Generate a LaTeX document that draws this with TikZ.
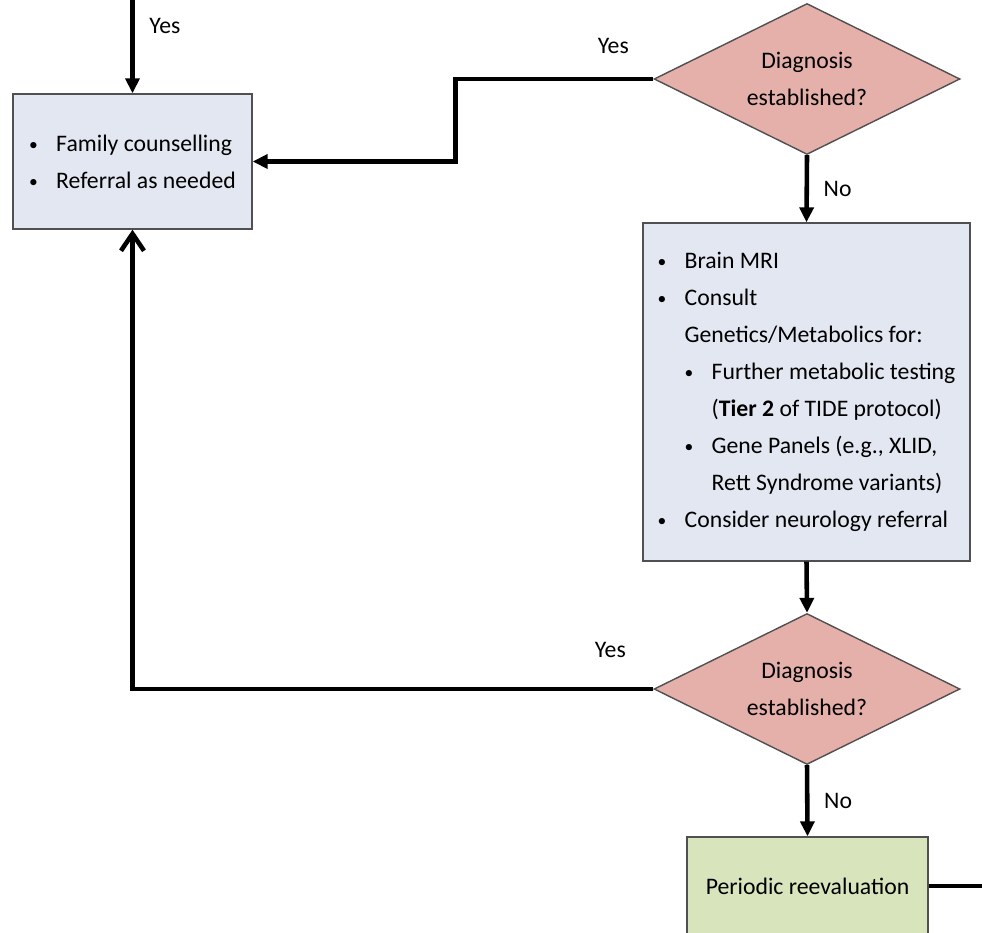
\documentclass[tikz,border=0pt]{standalone}
\usepackage{fontspec}
\setmainfont{Carlito}
\usetikzlibrary{shapes.geometric,arrows.meta}

\definecolor{boxblue}{RGB}{227,231,241}
\definecolor{boxpink}{RGB}{230,176,170}
\definecolor{boxgreen}{RGB}{216,228,188}
\definecolor{edgegrey}{RGB}{80,80,80}

\newcommand{\bul}{\makebox[0.54cm][l]{\raisebox{0.6pt}{\fontsize{10}{10}\selectfont •}}}

\begin{document}
\begin{tikzpicture}[x=0.02cm, y=-0.02cm,
        txt/.style={font=\fontsize{13.5}{21}\selectfont},
        infobox/.style={txt, draw=edgegrey, line width=0.8pt, fill=boxblue, align=left, inner sep=0pt},
        question/.style={txt, diamond, aspect=2, draw=edgegrey, line width=0.8pt, fill=boxpink,
            align=center, inner sep=0pt, minimum width=6.12cm, minimum height=3.02cm},
        arr/.style={line width=2.6pt, -{Triangle[length=3mm, width=2.8mm]}},
        bigarr/.style={line width=2.6pt, -{Straight Barb[length=3.4mm, width=4.6mm, line width=2.6pt]}}]
    \useasboundingbox (0,0) rectangle (982,932);
    \clip (0,0) rectangle (982,932);

    \node[infobox, minimum width=4.78cm, minimum height=2.7cm] (family) at (132.5,161.5)
        {\bul Family counselling\\ \bul Referral as needed};
    \node[question] (diag1) at (807,79) {Diagnosis\\established?};
    \node[infobox, minimum width=6.54cm, minimum height=6.76cm] (workup) at (806.5,392)
        {\bul Brain MRI\\
         \bul Consult\\
         \hspace*{0.54cm}Genetics/Metabolics for:\\
         \hspace*{0.54cm}\bul Further metabolic testing\\
         \hspace*{1.08cm}(\textbf{Tier 2} of TIDE protocol)\\
         \hspace*{0.54cm}\bul Gene Panels (e.g., XLID,\\
         \hspace*{1.08cm}Rett Syndrome variants)\\
         \bul Consider neurology referral};
    \node[question] (diag2) at (807,689) {Diagnosis\\established?};
    \node[txt, draw=edgegrey, line width=0.8pt, fill=boxgreen, minimum width=4.82cm,
        minimum height=1.96cm] (reeval) at (807.5,886) {Periodic reevaluation};

    \coordinate (top) at (132.5,0);
    \coordinate (rightend) at (990,886);

    \draw[arr] (top) -- (family.north) node[txt, pos=0.28, right=5pt] {Yes};
    \draw[arr] (diag1.west) -- ++(-198,0) |- (family.east);
    \path (diag1.west) ++(-40,-33) node[txt] {Yes};
    \draw[arr] (diag1.south) -- (workup.north) node[txt, midway, right=5pt] {No};
    \draw[arr] (workup.south) -- (diag2.north);
    \draw[bigarr] (diag2.west) -| (family.south);
    \path (diag2.west) ++(-43,-39) node[txt] {Yes};
    \draw[arr] (diag2.south) -- (reeval.north) node[txt, midway, right=5pt] {No};
    \draw[line width=2.6pt] (reeval.east) -- (rightend);

\end{tikzpicture}
\end{document}
